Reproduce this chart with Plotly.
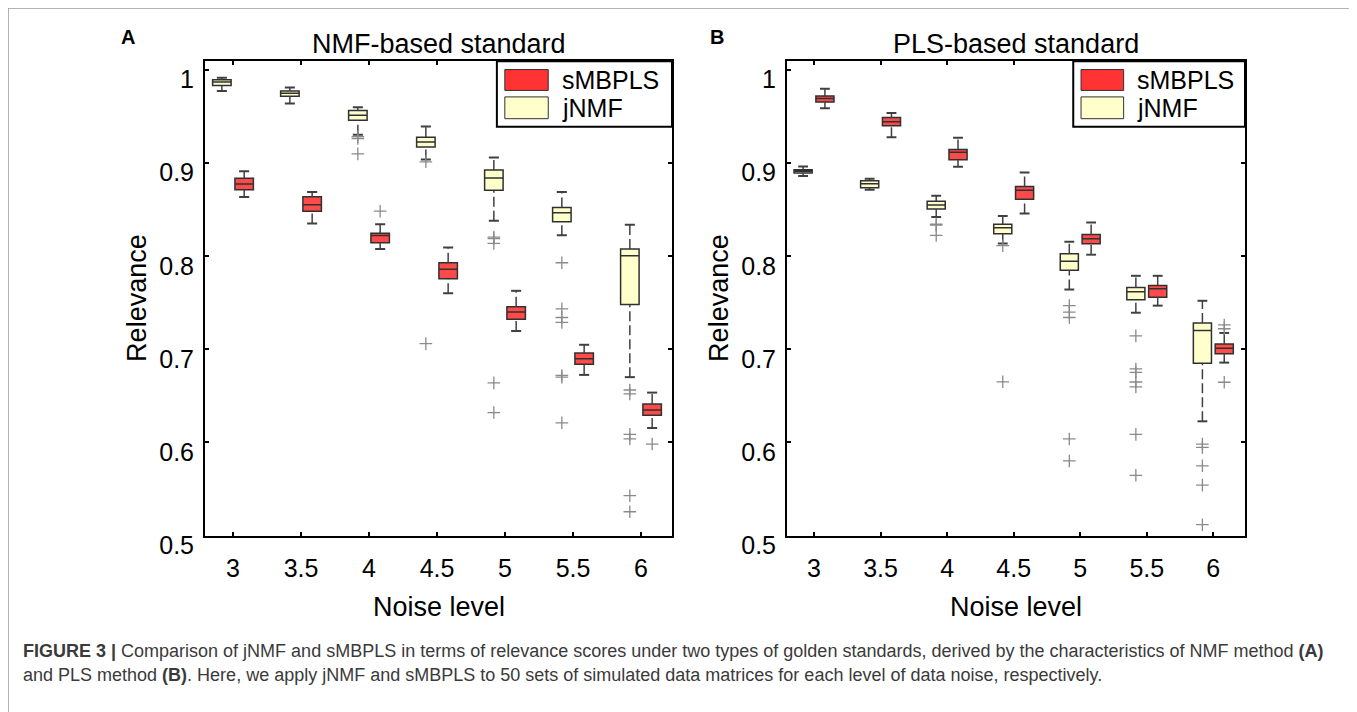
import plotly.graph_objects as go

W, H = 1357, 712
PAGE_PAD = 8  # default body margin of the written html page

# ---------------- data ----------------
levels = [3, 3.5, 4, 4.5, 5, 5.5, 6]
tick_vals_y = [0.5, 0.6, 0.7, 0.8, 0.9, 1.0]
tick_text_y = ["0.5", "0.6", "0.7", "0.8", "0.9", "1"]
tick_text_x = ["3", "3.5", "4", "4.5", "5", "5.5", "6"]

# Panel A (NMF-based standard)
A_smbpls_lower = [0.8632, 0.8349, 0.8076, 0.7600, 0.7195, 0.6724, 0.6154]
A_smbpls_q1 = [0.8711, 0.8480, 0.8141, 0.7755, 0.7322, 0.6838, 0.6292]
A_smbpls_med = [0.8773, 0.8549, 0.8220, 0.7858, 0.7400, 0.6897, 0.6348]
A_smbpls_q3 = [0.8833, 0.8636, 0.8245, 0.7927, 0.7454, 0.6960, 0.6413]
A_smbpls_upper = [0.8908, 0.8687, 0.8341, 0.8090, 0.7626, 0.7047, 0.6534]
A_smbpls_out = [[], [], [0.848], [], [], [], [0.5982]]

A_jnmf_lower = [0.9770, 0.9637, 0.9300, 0.9035, 0.8377, 0.8221, 0.6700]
A_jnmf_q1 = [0.9828, 0.9714, 0.9455, 0.9170, 0.8704, 0.8366, 0.7478]
A_jnmf_med = [0.9865, 0.9745, 0.9510, 0.9222, 0.8836, 0.8463, 0.8003]
A_jnmf_q3 = [0.9890, 0.9769, 0.9561, 0.9274, 0.8922, 0.8521, 0.8076]
A_jnmf_upper = [0.9913, 0.9807, 0.9596, 0.9389, 0.9057, 0.8687, 0.8335]
A_jnmf_out = [[], [], [0.928, 0.926, 0.9095], [0.901, 0.706],
              [0.8203, 0.8186, 0.8134, 0.6638, 0.632],
              [0.7927, 0.7433, 0.734, 0.7288, 0.6718, 0.670, 0.621],
              [0.6562, 0.652, 0.6086, 0.6037, 0.5428, 0.5256]]

# Panel B (PLS-based standard)
B_smbpls_lower = [0.9585, 0.9274, 0.8957, 0.8455, 0.8014, 0.7467, 0.6856]
B_smbpls_q1 = [0.9652, 0.9396, 0.9033, 0.8608, 0.8131, 0.7556, 0.6952]
B_smbpls_med = [0.9689, 0.9440, 0.9112, 0.8704, 0.8186, 0.7649, 0.7011]
B_smbpls_q3 = [0.9717, 0.9486, 0.9143, 0.8746, 0.8231, 0.7684, 0.7056]
B_smbpls_upper = [0.9793, 0.9533, 0.9267, 0.8895, 0.8359, 0.7787, 0.7174]
B_smbpls_out = [[], [], [], [], [], [], [0.726, 0.7219, 0.6645]]

B_jnmf_lower = [0.8857, 0.8711, 0.8418, 0.8135, 0.7640, 0.7391, 0.6226]
B_jnmf_q1 = [0.8891, 0.8732, 0.8504, 0.8238, 0.7848, 0.7530, 0.6849]
B_jnmf_med = [0.8910, 0.8774, 0.8548, 0.8304, 0.7944, 0.7616, 0.7201]
B_jnmf_q3 = [0.8926, 0.8808, 0.8587, 0.8341, 0.8024, 0.7661, 0.7281]
B_jnmf_upper = [0.8960, 0.8829, 0.8645, 0.8428, 0.8152, 0.7787, 0.7519]
B_jnmf_out = [[], [], [0.834, 0.833, 0.822], [0.811, 0.665],
              [0.7467, 0.7398, 0.734, 0.6037, 0.5801],
              [0.7143, 0.6788, 0.6752, 0.6648, 0.6596, 0.6086, 0.5647],
              [0.5982, 0.5946, 0.5749, 0.5542, 0.5117]]

# ---------------- styles ----------------
FONT = "Liberation Sans, Arial, sans-serif"
RED = "#FF4A4A"
YELLOW = "#FFFFCC"
EDGE = "#303030"
OUT_COLOR = "#8A8A8A"
OFFSET = 0.082
BOX_W = 0.136
CAP_HW = 0.037


def px_x(p):
    return (p - PAGE_PAD) / W


def px_y(p):
    return 1 - (p - PAGE_PAD) / H


fig = go.Figure()


def add_series(xa, ya, lower, q1, med, q3, upper, outs, fill, shift):
    pos = [lv + shift for lv in levels]
    fig.add_trace(go.Box(
        x=pos, q1=q1, median=med, q3=q3, lowerfence=q1, upperfence=q3,
        width=BOX_W, fillcolor=fill, line=dict(color=EDGE, width=1.5),
        whiskerwidth=0, boxpoints=False, hoverinfo="skip", showlegend=False,
        xaxis=xa, yaxis=ya))
    # dashed whiskers
    wx, wy = [], []
    for p, lo, a, b, hi in zip(pos, lower, q1, q3, upper):
        wx += [p, p, None, p, p, None]
        wy += [b, hi, None, lo, a, None]
    fig.add_trace(go.Scatter(x=wx, y=wy, mode="lines",
                             line=dict(color="#404040", width=1.5, dash="10px,4px"),
                             hoverinfo="skip", showlegend=False, xaxis=xa, yaxis=ya))
    # caps
    cx, cy = [], []
    for p, lo, hi in zip(pos, lower, upper):
        cx += [p - CAP_HW, p + CAP_HW, None, p - CAP_HW, p + CAP_HW, None]
        cy += [hi, hi, None, lo, lo, None]
    fig.add_trace(go.Scatter(x=cx, y=cy, mode="lines",
                             line=dict(color="#404040", width=2),
                             hoverinfo="skip", showlegend=False, xaxis=xa, yaxis=ya))
    # outliers
    ox, oy = [], []
    for p, o in zip(pos, outs):
        for v in o:
            ox.append(p)
            oy.append(v)
    fig.add_trace(go.Scatter(x=ox, y=oy, mode="markers",
                             marker=dict(symbol="cross-thin", size=9,
                                         line=dict(color=OUT_COLOR, width=1.3)),
                             hoverinfo="skip", showlegend=False, xaxis=xa, yaxis=ya))


add_series("x", "y", A_jnmf_lower, A_jnmf_q1, A_jnmf_med, A_jnmf_q3, A_jnmf_upper,
           A_jnmf_out, YELLOW, -OFFSET)
add_series("x", "y", A_smbpls_lower, A_smbpls_q1, A_smbpls_med, A_smbpls_q3,
           A_smbpls_upper, A_smbpls_out, RED, OFFSET)
add_series("x2", "y2", B_jnmf_lower, B_jnmf_q1, B_jnmf_med, B_jnmf_q3, B_jnmf_upper,
           B_jnmf_out, YELLOW, -OFFSET)
add_series("x2", "y2", B_smbpls_lower, B_smbpls_q1, B_smbpls_med, B_smbpls_q3,
           B_smbpls_upper, B_smbpls_out, RED, OFFSET)

# ---------------- axes ----------------
ydom = [px_y(554), px_y(63)]
common_x = dict(tickvals=levels, ticktext=tick_text_x, ticks="inside", ticklen=4,
                tickwidth=2, tickcolor="black", showline=True, linewidth=2,
                linecolor="black", mirror="allticks", showgrid=False, zeroline=False,
                tickfont=dict(family=FONT, size=25, color="black"),
                ticklabelstandoff=9)
common_y = dict(range=[0.5, 1.009], tickvals=tick_vals_y, ticktext=tick_text_y,
                ticks="inside", ticklen=4, tickwidth=2, tickcolor="black",
                showline=True, linewidth=2, linecolor="black", mirror="allticks",
                showgrid=False, zeroline=False,
                tickfont=dict(family=FONT, size=25, color="black"),
                ticklabelshift=10, ticklabelstandoff=4, domain=ydom)

fig.update_layout(
    width=W, height=H, margin=dict(l=0, r=0, t=0, b=0),
    paper_bgcolor="white", plot_bgcolor="white", boxmode="overlay",
    xaxis=dict(domain=[px_x(205), px_x(672)], range=[2.794, 6.228], anchor="y", **common_x),
    yaxis=dict(anchor="x", **common_y),
    xaxis2=dict(domain=[px_x(787), px_x(1245)], range=[2.797, 6.238], anchor="y2", **common_x),
    yaxis2=dict(anchor="x2", **common_y),
)

annotations = []
shapes = []

# panel texts
for cx_left, cx_right, title, letter, letter_x in [(205, 672, "NMF-based standard", "A", 128),
                                                    (787, 1245, "PLS-based standard", "B", 717)]:
    mid = (cx_left + cx_right) / 2
    annotations.append(dict(x=px_x(mid), y=px_y(45), xref="paper", yref="paper",
                            text=title, showarrow=False, xanchor="center", yanchor="middle",
                            font=dict(family=FONT, size=27, color="black")))
    annotations.append(dict(x=px_x(mid), y=px_y(628), xref="paper", yref="paper",
                            text="Noise level", showarrow=False, xanchor="center",
                            yanchor="middle", font=dict(family=FONT, size=27, color="black")))
    annotations.append(dict(x=px_x(cx_left - 68), y=px_y(308), xref="paper", yref="paper",
                            text="Relevance", showarrow=False, textangle=-90,
                            xanchor="center", yanchor="middle",
                            font=dict(family=FONT, size=27, color="black")))
    annotations.append(dict(x=px_x(letter_x), y=px_y(38), xref="paper", yref="paper",
                            text="<b>" + letter + "</b>",
                            showarrow=False, xanchor="center", yanchor="middle",
                            font=dict(family=FONT, size=20, color="black")))

# legends (drawn inside each axes, top-right)
for xr, yr in [("x domain", "y domain"), ("x2 domain", "y2 domain")]:
    shapes.append(dict(type="rect", xref=xr, yref=yr, x0=0.625, x1=1.0, y0=0.8615, y1=1.0,
                       fillcolor="white", line=dict(color="black", width=2), layer="above"))
    shapes.append(dict(type="rect", xref=xr, yref=yr, x0=0.642, x1=0.735, y0=0.9383, y1=0.9823,
                       fillcolor="#FF3333", line=dict(color=EDGE, width=1), layer="above"))
    shapes.append(dict(type="rect", xref=xr, yref=yr, x0=0.642, x1=0.735, y0=0.8787, y1=0.9246,
                       fillcolor=YELLOW, line=dict(color=EDGE, width=1), layer="above"))
    annotations.append(dict(x=0.760, y=0.9603, xref=xr, yref=yr, text="sMBPLS",
                            showarrow=False, xanchor="left", yanchor="middle",
                            font=dict(family=FONT, size=25, color="black")))
    annotations.append(dict(x=0.760, y=0.9016, xref=xr, yref=yr, text="jNMF",
                            showarrow=False, xanchor="left", yanchor="middle",
                            font=dict(family=FONT, size=25, color="black")))

# outer frame
shapes.append(dict(type="rect", xref="paper", yref="paper", x0=px_x(8), x1=px_x(1352),
                   y0=-0.05, y1=px_y(8), line=dict(color="#9A9A9A", width=1.5),
                   fillcolor="rgba(0,0,0,0)"))

cap1 = ("<b>FIGURE 3 |</b> Comparison of jNMF and sMBPLS in terms of relevance scores under "
        "two types of golden standards, derived by the characteristics of NMF method <b>(A)</b>")
cap2 = ("and PLS method <b>(B)</b>. Here, we apply jNMF and sMBPLS to 50 sets of simulated data "
        "matrices for each level of data noise, respectively.")
annotations.append(dict(x=px_x(21), y=px_y(673), xref="paper", yref="paper", text=cap1,
                        showarrow=False, xanchor="left", yanchor="middle",
                        font=dict(family=FONT, size=18, color="#3A3A3A")))
annotations.append(dict(x=px_x(21), y=px_y(698), xref="paper", yref="paper", text=cap2,
                        showarrow=False, xanchor="left", yanchor="middle",
                        font=dict(family=FONT, size=18, color="#3A3A3A")))

fig.update_layout(annotations=annotations, shapes=shapes)

fig.write_html("out.html")
